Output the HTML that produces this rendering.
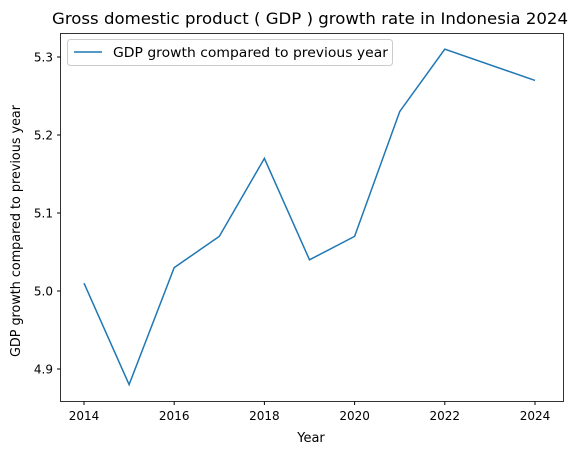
<!DOCTYPE html>
<html><head><meta charset="utf-8"><style>
body{margin:0;background:#fff;font-family:"Liberation Sans","DejaVu Sans",sans-serif;}
svg text{font-family:"DejaVu Sans","Liberation Sans",sans-serif;}
</style></head><body>
<svg id="chart" width="577" height="455" xmlns="http://www.w3.org/2000/svg">
<text x="310" y="24" font-size="16" text-anchor="middle" textLength="516" lengthAdjust="spacingAndGlyphs" fill="#000">Gross domestic product ( GDP ) growth rate in Indonesia 2024</text>
<rect x="60.5" y="33.5" width="503" height="368" fill="none" stroke="#000" stroke-width="0.8"/>
<g id="xticks"></g><g id="yticks"></g>
<path id="line" fill="none" stroke="#1f77b4" stroke-width="1.5"/>
<text x="311" y="442" font-size="13" text-anchor="middle">Year</text>
<text transform="translate(20,231) rotate(-90)" font-size="13" text-anchor="middle" textLength="252" lengthAdjust="spacingAndGlyphs">GDP growth compared to previous year</text>
<g>
<rect x="67.5" y="39.5" width="325" height="26" rx="3" fill="#fff" stroke="#ccc"/>
<line x1="74" y1="52" x2="102" y2="52" stroke="#1f77b4" stroke-width="1.5"/>
<text x="113" y="57" font-size="13" textLength="275" lengthAdjust="spacingAndGlyphs">GDP growth compared to previous year</text>
</g>
</svg>
<script>
const years=[2014,2015,2016,2017,2018,2019,2020,2021,2022,2024];
const growth=[5.01,4.88,5.03,5.07,5.17,5.04,5.07,5.23,5.31,5.27];
const xTicks=[2014,2016,2018,2020,2022,2024];
const yTicks=[4.9,5.0,5.1,5.2,5.3];
const sx=v=>84+(v-2014)*45.1;
const sy=v=>291-(v-5.0)*780;
const ns="http://www.w3.org/2000/svg";
const xg=document.getElementById('xticks'),yg=document.getElementById('yticks');
xTicks.forEach(t=>{
 const l=document.createElementNS(ns,'line');l.setAttribute('x1',sx(t));l.setAttribute('x2',sx(t));l.setAttribute('y1',401.5);l.setAttribute('y2',405);l.setAttribute('stroke','#000');
 
 
 xg.appendChild(l);
 const tx=document.createElementNS(ns,'text');tx.setAttribute('x',sx(t));tx.setAttribute('y',420);tx.setAttribute('font-size','12');tx.setAttribute('text-anchor','middle');tx.textContent=t;
 
 
 xg.appendChild(tx);
});
yTicks.forEach(t=>{
 const l=document.createElementNS(ns,'line');l.setAttribute('x1',57);l.setAttribute('x2',60.5);l.setAttribute('y1',sy(t));l.setAttribute('y2',sy(t));l.setAttribute('stroke','#000');
 
 
 yg.appendChild(l);
 const tx=document.createElementNS(ns,'text');tx.setAttribute('x',53);tx.setAttribute('y',sy(t)+4.5);tx.setAttribute('font-size','12');tx.setAttribute('text-anchor','end');tx.textContent=t.toFixed(1);
 
 
 yg.appendChild(tx);
});
document.getElementById('line').setAttribute('d',years.map((y,i)=>(i?'L':'M')+sx(y)+','+sy(growth[i])).join(' '));
</script>
</body></html>
